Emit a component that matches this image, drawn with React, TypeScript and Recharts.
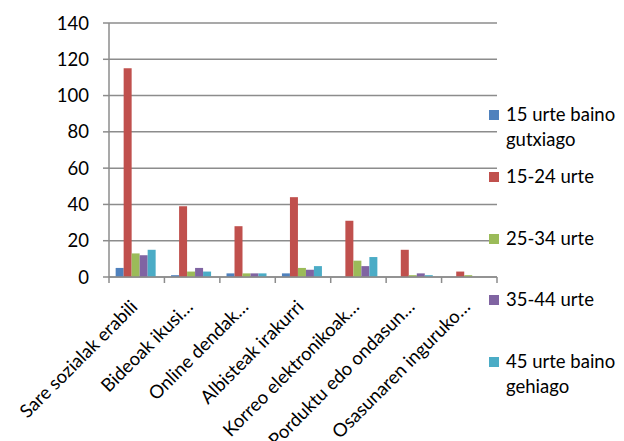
import React from 'react';
import { BarChart, Bar, XAxis, YAxis, CartesianGrid } from 'recharts';

const categories = [
  'Sare sozialak erabili',
  'Bideoak ikusi…',
  'Online dendak…',
  'Albisteak irakurri',
  'Korreo elektronikoak…',
  'Porduktu edo ondasun…',
  'Osasunaren inguruko…',
];
const under15 = [5, 1, 2, 2, 0, 0, 0];
const age15to24 = [115, 39, 28, 44, 31, 15, 3];
const age25to34 = [13, 3, 2, 5, 9, 1, 1];
const age35to44 = [12, 5, 2, 4, 6, 2, 0];
const over45 = [15, 3, 2, 6, 11, 1, 0];
const seriesNames = ['15 urte baino gutxiago', '15-24 urte', '25-34 urte', '35-44 urte', '45 urte baino gehiago'];
const seriesKeys = ['s0', 's1', 's2', 's3', 's4'];
const seriesColors = ['#4F81BD', '#C0504D', '#9BBB59', '#8064A2', '#4BACC6'];
const yTicks = [0, 20, 40, 60, 80, 100, 120, 140];

const seriesValues = [under15, age15to24, age25to34, age35to44, over45];
const data = categories.map((name, i) => {
  const row: Record<string, string | number> = { name };
  seriesKeys.forEach((k, j) => {
    row[k] = seriesValues[j][i];
  });
  return row;
});

const W = 624;
const H = 441;
const MARGIN = { top: 23, right: 127, bottom: 0, left: 0 };
const YAXIS_W = 109;
const XAXIS_H = 164;
const BAND = (W - MARGIN.left - MARGIN.right - YAXIS_W) / categories.length;
const FONT = 'Lato, "Liberation Sans", sans-serif';
const FS = 18.5;
const GRID = '#8c8c8c';

const XTick = (props: any) => {
  const { x, y, payload, index } = props;
  const ax = y - 6;
  const tx = x + 2;
  const ty = y + 25;
  return (
    <g>
      <line x1={x - BAND / 2} y1={ax} x2={x - BAND / 2} y2={ax + 6} stroke={GRID} strokeWidth={1.5} />
      {index === categories.length - 1 && (
        <line x1={x + BAND / 2} y1={ax} x2={x + BAND / 2} y2={ax + 6} stroke={GRID} strokeWidth={1.5} />
      )}
      <text
        x={tx}
        y={ty}
        textAnchor="end"
        transform={`rotate(-45, ${tx}, ${ty})`}
        fill="#000"
        fontFamily={FONT}
        fontSize={FS}
      >
        {payload.value}
      </text>
    </g>
  );
};

export default function App() {
  return (
    <div style={{ position: 'absolute', left: 0, top: 0, width: W, height: H, background: '#fff' }}>
      <BarChart width={W} height={H} data={data} margin={MARGIN} barCategoryGap="12%" barGap={0}>
        <CartesianGrid vertical={false} stroke={GRID} strokeWidth={1.5} />
        <XAxis
          dataKey="name"
          interval={0}
          height={XAXIS_H}
          axisLine={{ stroke: GRID, strokeWidth: 1.5 }}
          tickLine={false}
          tickSize={6}
          tickMargin={0}
          tick={<XTick />}
        />
        <YAxis
          width={YAXIS_W}
          domain={[0, 140]}
          ticks={yTicks}
          interval={0}
          axisLine={{ stroke: GRID, strokeWidth: 1.5 }}
          tickLine={{ stroke: GRID, strokeWidth: 1.5 }}
          tickSize={6}
          tickMargin={14}
          tick={{ fill: '#000', fontFamily: FONT, fontSize: FS }}
        />
        {seriesKeys.map((k, j) => (
          <Bar key={k} dataKey={k} name={seriesNames[j]} fill={seriesColors[j]} isAnimationActive={false} />
        ))}
      </BarChart>
      <div style={{ position: 'absolute', left: 489, top: 102, width: 135, fontFamily: FONT, fontSize: FS, color: '#000' }}>
        {seriesNames.map((n, j) => (
          <div key={n} style={{ display: 'flex', alignItems: 'flex-start', height: 61.8 }}>
            <div style={{ width: 10, height: 10, background: seriesColors[j], marginTop: 8, marginRight: 7, flex: 'none' }} />
            <div style={{ lineHeight: '25px', width: 118 }}>{n}</div>
          </div>
        ))}
      </div>
    </div>
  );
}
